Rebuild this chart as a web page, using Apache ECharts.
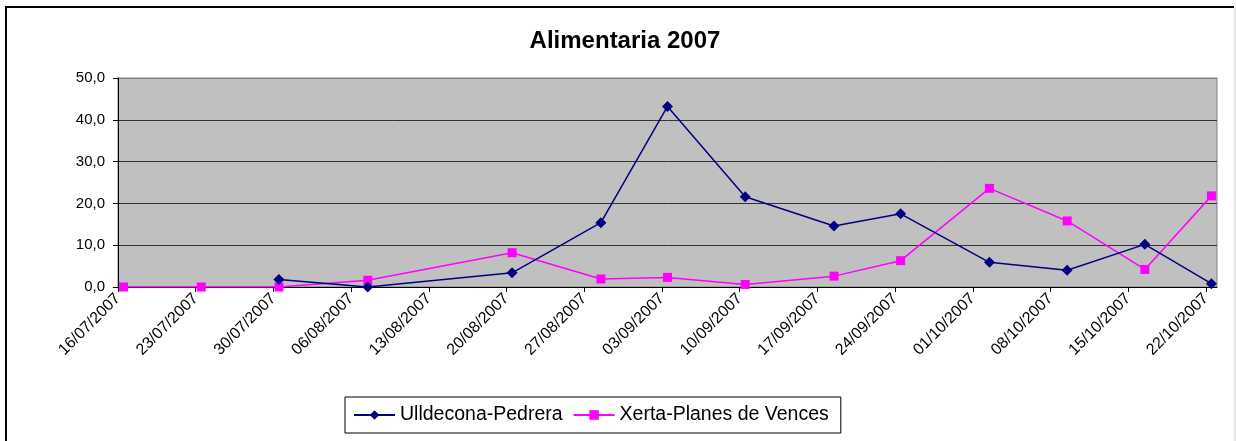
<!DOCTYPE html>
<html>
<head>
<meta charset="utf-8">
<script src="https://cdn.jsdelivr.net/npm/echarts@6/dist/echarts.min.js"></script>
<style>
html,body{margin:0;padding:0;background:#fff;}
#chart{width:1236px;height:441px;}
</style>
</head>
<body>
<div id="chart"></div>
<script>
// ---- data ----
const titleText = 'Alimentaria 2007';
const seriesNames = ['Ulldecona-Pedrera', 'Xerta-Planes de Vences'];
const ulldeconaDates = ['30/07/2007','07/08/2007','20/08/2007','28/08/2007','03/09/2007','10/09/2007','18/09/2007','24/09/2007','02/10/2007','09/10/2007','16/10/2007','22/10/2007'];
const ulldeconaValues = [1.8, 0.0, 3.4, 15.4, 43.2, 21.6, 14.6, 17.5, 5.9, 4.0, 10.2, 0.8];
const xertaDates = ['16/07/2007','23/07/2007','30/07/2007','07/08/2007','20/08/2007','28/08/2007','03/09/2007','10/09/2007','18/09/2007','24/09/2007','02/10/2007','09/10/2007','16/10/2007','22/10/2007'];
const xertaValues = [0.0, 0.0, 0.0, 1.6, 8.2, 1.9, 2.3, 0.6, 2.6, 6.3, 23.6, 15.8, 4.2, 21.8];
const xTickLabels = ['16/07/2007','23/07/2007','30/07/2007','06/08/2007','13/08/2007','20/08/2007','27/08/2007','03/09/2007','10/09/2007','17/09/2007','24/09/2007','01/10/2007','08/10/2007','15/10/2007','22/10/2007'];
const axisStart = '16/07/2007';
const axisEnd = '23/10/2007';
const yTicks = [0, 10, 20, 30, 40, 50];

// ---- helpers ----
const DAY = 86400000;
function parseDate(s) {
  const p = s.split('/');
  return Date.UTC(+p[2], +p[1] - 1, +p[0]);
}
const T0 = parseDate(axisStart);
function dayIndex(s) { return Math.round((parseDate(s) - T0) / DAY); }
function pad(n) { return (n < 10 ? '0' : '') + n; }
function fmtDay(v) {
  const d = new Date(T0 + Math.round(v) * DAY);
  return pad(d.getUTCDate()) + '/' + pad(d.getUTCMonth() + 1) + '/' + d.getUTCFullYear();
}
// Points sit in the middle of their day slot (date axis, between-categories)
function buildData(dates, values) {
  return dates.map((d, i) => [dayIndex(d) + 0.5, values[i]]);
}
const tickValues = xTickLabels.map(dayIndex);

const FONT = '"Liberation Sans", Arial, sans-serif';
const chart = echarts.init(document.getElementById('chart'), null, {renderer: 'canvas'});
chart.setOption({
  animation: false,
  backgroundColor: '#ffffff',
  graphic: [{
    type: 'polyline',
    shape: {points: [[6, 460], [6, 7], [1234, 7]]},
    style: {fill: 'none', stroke: '#000', lineWidth: 2},
    z: 100, silent: true
  }, {
    type: 'line',
    shape: {x1: 1235, y1: 7, x2: 1235, y2: 460},
    style: {stroke: '#c8c8c8', lineWidth: 1},
    z: 100, silent: true
  }],
  title: {
    text: titleText,
    left: 620,
    textAlign: 'center',
    top: 24,
    textStyle: {fontFamily: FONT, fontSize: 24, fontWeight: 'bold', color: '#000'}
  },
  grid: {
    left: 118, top: 78, width: 1099, height: 209,
    show: true, backgroundColor: '#C0C0C0', borderColor: '#808080', borderWidth: 1,
    containLabel: false
  },
  legend: {
    left: 345, top: 397,
    padding: [8, 12, 8, 8],
    itemGap: 10,
    itemWidth: 41,
    itemHeight: 12,
    borderColor: '#000', borderWidth: 1,
    backgroundColor: '#fff',
    textStyle: {fontFamily: FONT, fontSize: 19.5, color: '#000'},
    data: seriesNames
  },
  xAxis: {
    type: 'value',
    min: 0,
    max: dayIndex(axisEnd),
    axisLine: {show: true, onZero: false, lineStyle: {color: '#000', width: 1}},
    axisTick: {show: true, length: 5, lineStyle: {color: '#000'}, customValues: tickValues},
    axisLabel: {
      customValues: tickValues,
      rotate: 45,
      margin: 9,
      fontFamily: FONT, fontSize: 16, color: '#000',
      formatter: function (v) { return fmtDay(v); }
    },
    splitLine: {show: false}
  },
  yAxis: {
    type: 'value',
    min: yTicks[0], max: yTicks[yTicks.length - 1], interval: 10,
    axisLine: {show: true, lineStyle: {color: '#000', width: 1}},
    axisTick: {show: true, length: 5, lineStyle: {color: '#000'}},
    axisLabel: {
      margin: 13,
      fontFamily: FONT, fontSize: 15, color: '#000',
      formatter: function (v) { return v.toFixed(1).replace('.', ','); }
    },
    splitLine: {show: true, lineStyle: {color: ['#000', '#333', '#333', '#333', '#333', '#808080'], width: 1}}
  },
  series: [{
    name: seriesNames[0],
    type: 'line',
    data: buildData(ulldeconaDates, ulldeconaValues),
    symbol: 'diamond', symbolSize: 11,
    lineStyle: {color: '#000080', width: 1.5},
    itemStyle: {color: '#000080'},
    z: 3
  }, {
    name: seriesNames[1],
    type: 'line',
    data: buildData(xertaDates, xertaValues),
    symbol: 'rect', symbolSize: 9,
    lineStyle: {color: '#FF00FF', width: 1.5},
    itemStyle: {color: '#FF00FF'},
    z: 2
  }]
});
</script>
</body>
</html>
